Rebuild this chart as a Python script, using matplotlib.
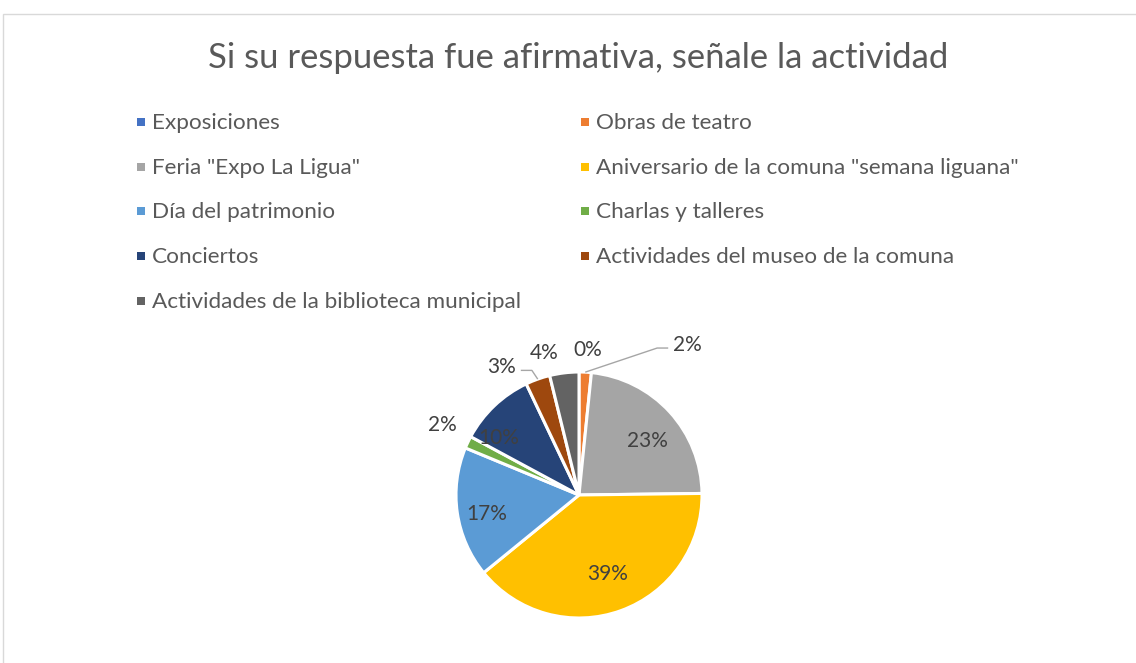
import numpy as np
import matplotlib
matplotlib.use("Agg")
import matplotlib.pyplot as plt
from matplotlib.patches import Rectangle

# ---------------- data ----------------
title = "Si su respuesta fue afirmativa, señale la actividad"
categories = [
    "Exposiciones",
    "Obras de teatro",
    'Feria "Expo La Ligua"',
    'Aniversario de la comuna "semana liguana"',
    "Día del patrimonio",
    "Charlas y talleres",
    "Conciertos",
    "Actividades del museo de la comuna",
    "Actividades de la biblioteca municipal",
]
values = [0.0, 1.6, 23.0, 39.0, 17.0, 1.6, 10.0, 3.2, 3.8]

# ---------------- style ----------------
colors = ["#4472C4", "#ED7D31", "#A5A5A5", "#FFC000", "#5B9BD5",
          "#70AD47", "#264478", "#9E480E", "#636363"]
# per-slice label placement (radius factor, angular offset in degrees), leader flag
label_r = [1.18, 1.44, 0.71, 0.68, 0.765, 1.25, 0.80, 1.158, 1.19]
label_dt = [-3.5, -29.2, -4.0, 0.0, 3.0, -1.6, 11.0, 6.7, 7.0]
leader = [False, True, False, False, False, False, False, True, False]

W, H, DPI = 1136, 663, 100
FONT = "Lato"
TXT = "#595959"
LBL = "#404040"

fig = plt.figure(figsize=(W / DPI, H / DPI), dpi=DPI)
fig.patch.set_facecolor("white")

# chart frame (top and left edges visible)
fig.patches.append(Rectangle((3.5 / W, -0.1), 1.2, (H - 13.5) / H + 0.1,
                             transform=fig.transFigure, fill=False,
                             edgecolor="#D9D9D9", linewidth=1.0))

renderer = fig.canvas.get_renderer()


def fit_text(x, y, s, target_w, base=14, **kw):
    t = fig.text(x, y, s, fontsize=base, **kw)
    w = t.get_window_extent(renderer).width
    t.set_fontsize(base * target_w / w)
    return t


# title
fit_text((208 + 948) / 2 / W, 1 - 58 / H, title, 740, base=24,
         ha="center", va="center", color=TXT, family=FONT)

# legend (manual, two columns)
col_x = [141, 585]
row_y0, row_dy = 122, 44.7
tmp = fig.text(0, 0, categories[3], fontsize=14, family=FONT)
lw = tmp.get_window_extent(renderer).width
tmp.remove()
leg_fs = 14 * 423 / lw
for i, (c, col) in enumerate(zip(categories, colors)):
    cx = col_x[i % 2]
    cy = row_y0 + (i // 2) * row_dy
    fig.patches.append(Rectangle(((cx - 4) / W, 1 - (cy + 4) / H), 8 / W, 8 / H,
                                 transform=fig.transFigure, facecolor=col,
                                 edgecolor="none"))
    fig.text((cx + 11) / W, 1 - (cy + 1) / H, c, fontsize=leg_fs, family=FONT,
             color=TXT, ha="left", va="center")

# pie axes
cx_pix, cy_pix, R = 579, 495, 123
RA = 200
ax = fig.add_axes([(cx_pix - RA) / W, (H - cy_pix - RA) / H, 2 * RA / W, 2 * RA / H])
wedges, _ = ax.pie(values, colors=colors, startangle=90, counterclock=False,
                   wedgeprops=dict(edgecolor="white", linewidth=2.2))
ax.set_xlim(-RA / R, RA / R)
ax.set_ylim(-RA / R, RA / R)
ax.set_aspect("equal")
ax.axis("off")

tot = sum(values)
tmp = ax.text(0, 0, "23%", fontsize=14, family=FONT)
dw = tmp.get_window_extent(renderer).width
tmp.remove()
lab_fs = 14 * 41 / dw

for i, w in enumerate(wedges):
    mid = np.deg2rad((w.theta1 + w.theta2) / 2)
    ang = mid + np.deg2rad(label_dt[i])
    lx, ly = label_r[i] * np.cos(ang), label_r[i] * np.sin(ang)
    txt = f"{100 * values[i] / tot:.0f}%"
    if leader[i]:
        side = 1 if lx > np.cos(mid) else -1
        ha = "left" if side == 1 else "right"
        ax.text(lx, ly, txt, fontsize=lab_fs, family=FONT, color=LBL,
                ha=ha, va="center")
        ex = lx - side * 0.04
        ey = ly - 0.025
        bx = ex - side * 0.09
        sx, sy = np.cos(mid), np.sin(mid)
        ax.plot([sx, bx, ex], [sy, ey, ey], color="#A6A6A6", lw=1.0,
                solid_capstyle="butt")
    else:
        ax.text(lx, ly, txt, fontsize=lab_fs, family=FONT, color=LBL,
                ha="center", va="center")

fig.savefig("out.png", dpi=DPI)
